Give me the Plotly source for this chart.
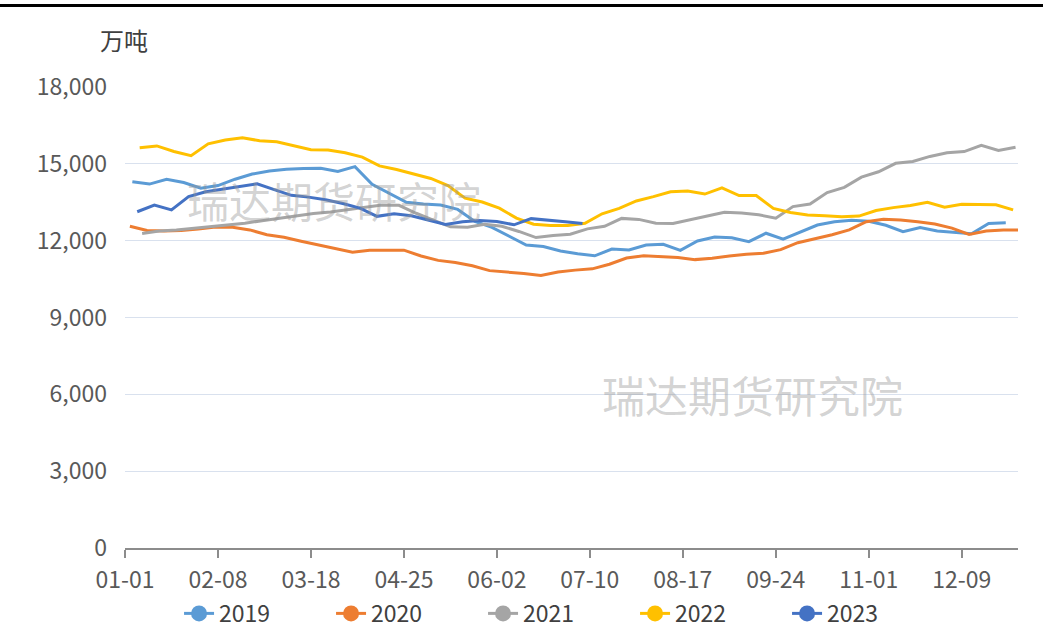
import plotly.graph_objects as go

# ---- data (万吨), weekly, x = day offset from 01-01 ----
tick_labels = ["01-01", "02-08", "03-18", "04-25", "06-02", "07-10", "08-17", "09-24", "11-01", "12-09"]
tick_days = [0, 38, 76, 114, 152, 190, 228, 266, 304, 342]

years = ["2019", "2020", "2021", "2022", "2023"]
start_days = {"2019": 3, "2020": 2, "2021": 7, "2022": 6, "2023": 5}

v2019 = [14300, 14210, 14400, 14270, 14050, 14150, 14400, 14600, 14720, 14790,
         14820, 14830, 14700, 14890, 14200, 13850, 13500, 13430, 13390, 13220,
         12750, 12520, 12180, 11830, 11770, 11600, 11490, 11410, 11670, 11640,
         11830, 11860, 11620, 11990, 12140, 12110, 11960, 12290, 12060, 12330,
         12610, 12740, 12800, 12760, 12600, 12350, 12510, 12380, 12320, 12270,
         12670, 12700]
v2020 = [12560, 12400, 12380, 12400, 12460, 12530, 12520, 12420, 12230, 12130,
         11980, 11840, 11700, 11550, 11630, 11640, 11630, 11400, 11230, 11150,
         11020, 10830, 10780, 10720, 10640, 10780, 10850, 10900, 11080, 11320,
         11410, 11380, 11340, 11260, 11310, 11400, 11470, 11510, 11650, 11920,
         12060, 12230, 12420, 12740, 12840, 12810, 12740, 12650, 12490, 12240,
         12380, 12420, 12420]
v2021 = [12280, 12380, 12420, 12480, 12560, 12620, 12680, 12780, 12880, 12960,
         13060, 13120, 13210, 13300, 13390, 13380, 13070, 12800, 12540, 12520,
         12640, 12560, 12360, 12120, 12200, 12250, 12460, 12560, 12870, 12830,
         12680, 12670, 12830, 12960, 13110, 13080, 13010, 12880, 13330, 13430,
         13880, 14080, 14480, 14690, 15020, 15090, 15290, 15430, 15480, 15720,
         15520, 15650]
v2022 = [15630, 15700, 15480, 15320, 15780, 15930, 16020, 15900, 15860, 15700,
         15550, 15540, 15430, 15260, 14920, 14780, 14620, 14430, 14150, 13660,
         13510, 13270, 12880, 12640, 12590, 12590, 12680, 13050, 13260, 13550,
         13720, 13910, 13940, 13820, 14060, 13760, 13760, 13260, 13100, 13000,
         12970, 12930, 12960, 13180, 13290, 13370, 13500, 13310, 13420, 13420,
         13400, 13200]
v2023 = [13130, 13390, 13200, 13720, 13910, 14010, 14120, 14220, 13990, 13770,
         13700, 13600, 13450, 13270, 12950, 13050, 12970, 12800, 12630, 12740,
         12790, 12750, 12620, 12860, 12810, 12740, 12670]

values = {"2019": v2019, "2020": v2020, "2021": v2021, "2022": v2022, "2023": v2023}
colors = {"2019": "#5B9BD5", "2020": "#ED7D31", "2021": "#A5A5A5", "2022": "#FFC000", "2023": "#4472C4"}

FONT = "Noto Sans CJK SC"
fig = go.Figure()

for y in years:
    vals = values[y]
    xs = [start_days[y] + 7 * k for k in range(len(vals))]
    fig.add_trace(go.Scatter(x=xs, y=vals, mode="lines", name=y, showlegend=False,
                             line=dict(color=colors[y], width=3), hoverinfo="x+y"))

for y in years:
    fig.add_trace(go.Scatter(x=[None], y=[None], mode="lines+markers", name=y,
                             line=dict(color=colors[y], width=3),
                             marker=dict(color=colors[y], size=16, symbol="circle")))

fig.update_layout(
    width=1043, height=639,
    margin=dict(l=125, r=25, t=87, b=91, autoexpand=False),
    paper_bgcolor="white", plot_bgcolor="white",
    font=dict(family=FONT, size=23, color="#595959"),
    showlegend=True,
    legend=dict(orientation="h", xref="container", yref="container",
                x=0.536, xanchor="center", y=0.040, yanchor="middle",
                font=dict(size=23, color="#404040"), entrywidth=107,
                bgcolor="rgba(0,0,0,0)"),
    xaxis=dict(range=[0, 365], tickmode="array", tickvals=tick_days, ticktext=tick_labels,
               showline=True, linecolor="#8C8C8C", linewidth=1.5, ticks="outside", ticklen=8,
               tickcolor="#8C8C8C", tickwidth=1.5, showgrid=False, zeroline=False,
               ticklabelstandoff=3, automargin=False,
               tickfont=dict(size=23, color="#595959")),
    yaxis=dict(range=[0, 18000], tickmode="linear", tick0=0, dtick=3000, tickformat=",",
               showgrid=True, gridcolor="#D9E1EE", gridwidth=1, zeroline=False, showline=False,
               ticklabelstandoff=17, automargin=False, tickfont=dict(size=23, color="#595959")),
    annotations=[
        dict(text="万吨", xref="paper", yref="paper", x=0.028, y=1.102, xanchor="right",
             yanchor="middle", showarrow=False, font=dict(size=24, color="#404040")),
        dict(text="瑞达期货研究院", xref="paper", yref="paper", x=0.067, y=0.755, xanchor="left",
             yanchor="middle", showarrow=False, font=dict(size=42, color="rgba(150,150,150,0.42)")),
        dict(text="瑞达期货研究院", xref="paper", yref="paper", x=0.532, y=0.333, xanchor="left",
             yanchor="middle", showarrow=False, font=dict(size=43, color="rgba(150,150,150,0.42)")),
    ],
    shapes=[
        dict(type="line", xref="paper", yref="paper", x0=-0.14, x1=1.028, y0=1.1768, y1=1.1768,
             line=dict(color="black", width=3)),
    ],
)

fig.write_html("out.html", config={"displayModeBar": False},
               post_script="document.body.style.margin='0';")
